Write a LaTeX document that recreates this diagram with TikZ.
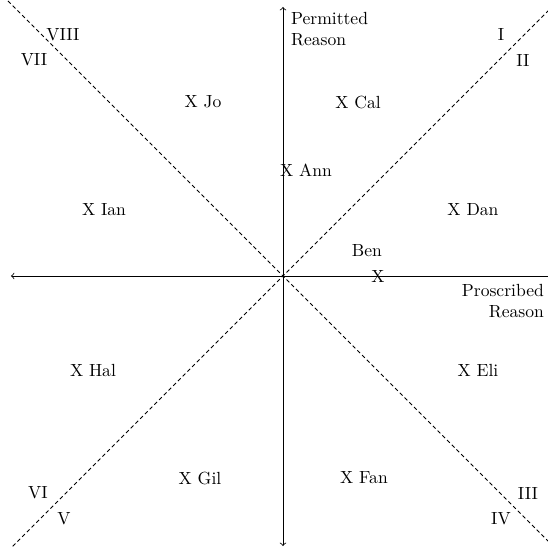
\documentclass[tikz,border=0pt]{standalone}
\usetikzlibrary{positioning}

\begin{document}
\begin{tikzpicture}[x=0.02cm,y=0.02cm,
  axis/.style={line width=0.45pt,<->,>=to},
  diag/.style={line width=0.5pt,dashed,dash pattern=on 2.2pt off 1.6pt},
  who/.style={inner sep=1pt},
  zone/.style={inner sep=1pt}]
\useasboundingbox (-283,-272) rectangle (265,276);
% axes and diagonals
\coordinate (O) at (0,0);
\coordinate (W) at (-272,0);
\coordinate (E) at (276,0);
\coordinate (S) at (0,-270);
\coordinate (N) at (0,269);
\coordinate (NE) at (274,274);
\coordinate (SW) at (-275,-275);
\coordinate (NW) at (-275,275);
\coordinate (SE) at (274,-274);
\draw[axis] (W)--(E);
\draw[axis] (S)--(N);
\draw[diag] (SW)--(NE);
\draw[diag] (NW)--(SE);
\node[inner sep=1pt,anchor=north west,align=left] (perm) at (6,266) {Permitted\\Reason};
\node[inner sep=1pt,anchor=north east,align=right] (pros) at (263,-6) {Proscribed\\Reason};
% octants
\node[zone] (o1) at (218,241) {I};
\node[zone] (o2) at (240,216) {II};
\node[zone] (o3) at (245,-217) {III};
\node[zone] (o4) at (218,-243) {IV};
\node[zone] (o5) at (-219,-243) {V};
\node[zone] (o6) at (-245,-217) {VI};
\node[zone] (o7) at (-249,216) {VII};
\node[zone] (o8) at (-220,241) {VIII};
% people
\node[who] (jo) at (-80,174) {X Jo};
\node[who] (cal) at (75,174) {X Cal};
\node[who] (ann) at (23,106) {X Ann};
\node[who] (ian) at (-179,66) {X Ian};
\node[who] (dan) at (190,66) {X Dan};
\node[who] (benx) at (95,0) {X};
\node[who] (ben) at (84,25) {Ben};
\node[who] (hal) at (-190,-94) {X Hal};
\node[who] (eli) at (195,-94) {X Eli};
\node[who] (gil) at (-83,-202) {X Gil};
\node[who] (fan) at (81,-202) {X Fan};
\end{tikzpicture}
\end{document}
